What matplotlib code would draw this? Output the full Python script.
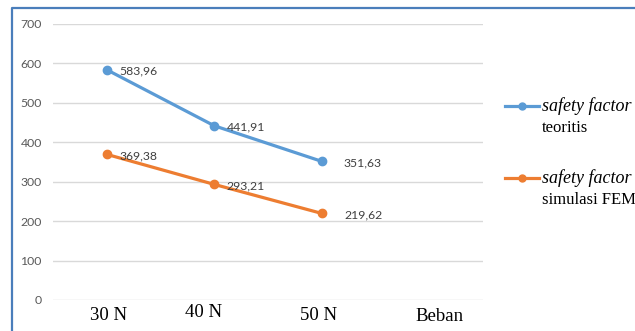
import matplotlib.pyplot as plt
from matplotlib.lines import Line2D
from matplotlib.transforms import ScaledTranslation

# load cases and safety factor values
categories = ["30 N", "40 N", "50 N", "Beban"]
sf_teoritis = [583.96, 441.91, 351.63]
sf_fem = [369.38, 293.21, 219.62]
value_labels_teoritis = ["583,96", "441,91", "351,63"]
value_labels_fem = ["369,38", "293,21", "219,62"]
yticks = [0, 100, 200, 300, 400, 500, 600, 700]

blue = "#5b9bd5"
orange = "#ed7d31"
W, H = 635, 331

fig = plt.figure(figsize=(W / 100, H / 100), dpi=100)
ax = fig.add_axes([53 / W, 1 - 300 / H, 430 / W, 276 / H])

x = list(range(len(sf_teoritis)))
ax.plot(x, sf_teoritis, color=blue, lw=2.3, marker="o", ms=6, solid_capstyle="round")
ax.plot(x, sf_fem, color=orange, lw=2.3, marker="o", ms=6, solid_capstyle="round")

#Data labels
for series, labels in [(sf_teoritis, value_labels_teoritis), (sf_fem, value_labels_fem)]:
    for i, (v, t) in enumerate(zip(series, labels)):
        dx = 16 if i == len(series) - 1 else 9
        ax.annotate(t, xy=(i, v), xytext=(dx, -1), textcoords="offset points",
                    va="center", ha="left", fontsize=8.8, family="Lato", color="#404040")

ax.set_xlim(-0.5, len(categories) - 0.5)
ax.set_ylim(0, 700)
ax.set_yticks(yticks)
ax.set_yticklabels([str(v) for v in yticks], family="Lato", fontsize=8.8, color="#595959")
ax.set_xticks(range(len(categories)))
ax.set_xticklabels(categories, family="Liberation Serif", fontsize=13.5, color="black")
ax.tick_params(axis="both", length=0)
ax.tick_params(axis="y", pad=8)
ax.tick_params(axis="x", pad=4)
ax.grid(axis="y", color="#d9d9d9", lw=1)
ax.set_axisbelow(True)
for s in ax.spines.values():
    s.set_visible(False)

# category labels sit slightly off their ticks (text boxes in the source)
label_shift = [(2, -1), (-11, 2), (-3, -1), (10, -2)]
for lab, (dx, dy) in zip(ax.get_xticklabels(), label_shift):
    lab.set_transform(lab.get_transform() + ScaledTranslation(dx / 100, dy / 100, fig.dpi_scale_trans))

#Legend drawn by hand so the key sits on the first text line
legend_rows = [(blue, "teoritis", 106), (orange, "simulasi FEM", 178)]
for c, second, ypix in legend_rows:
    yf = 1 - ypix / H
    fig.add_artist(Line2D([505 / W, 539 / W], [yf, yf], color=c, lw=2.3,
                          transform=fig.transFigure))
    fig.add_artist(Line2D([522 / W], [yf], color=c, marker="o", ms=5,
                          transform=fig.transFigure))
    fig.text(542 / W, yf, "safety factor", family="Liberation Serif", style="italic",
             fontsize=13, va="center", ha="left")
    fig.text(542 / W, yf - 22 / H, second, family="Liberation Serif",
             fontsize=12, va="center", ha="left")

#Outer chart border
fig.add_artist(Line2D([12 / W, 12 / W, 1.0], [0.0, 1 - 8 / H, 1 - 8 / H],
                      color="#4a7ebb", lw=1.6, transform=fig.transFigure))

plt.savefig("out.png", dpi=100)
